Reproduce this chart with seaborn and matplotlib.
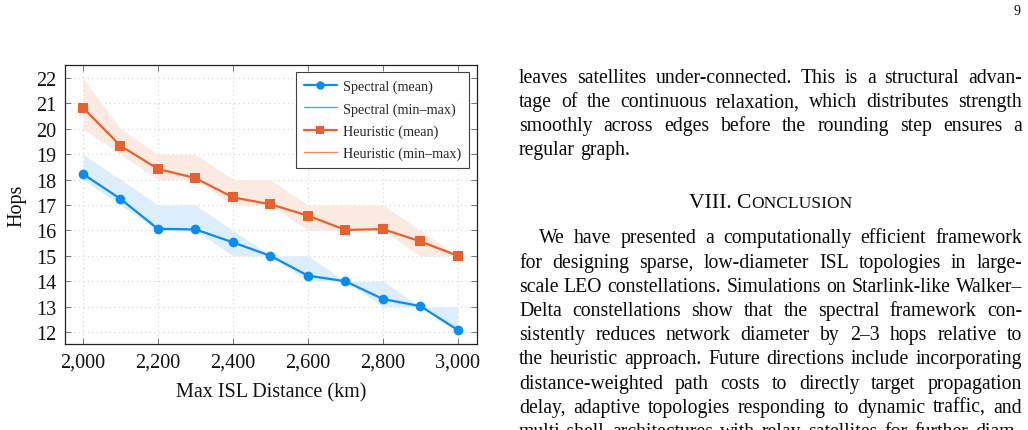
import numpy as np
import pandas as pd
import matplotlib
matplotlib.use("Agg")
import matplotlib.pyplot as plt
from matplotlib.lines import Line2D
from matplotlib.transforms import IdentityTransform
import seaborn as sns

# values
dist = [2000, 2100, 2200, 2300, 2400, 2500, 2600, 2700, 2800, 2900, 3000]
spectral_mean = [18.22, 17.24, 16.06, 16.04, 15.53, 15.0, 14.22, 14.0, 13.3, 13.02, 12.08]
spectral_min = [18, 17, 16, 16, 15, 15, 14, 14, 13, 13, 12]
spectral_max = [19, 18, 17, 17, 16, 15, 15, 14, 14, 13, 13]
heuristic_mean = [20.83, 19.33, 18.42, 18.06, 17.3, 17.03, 16.58, 16.02, 16.05, 15.57, 15.0]
heuristic_min = [20, 19, 18, 18, 17, 17, 16, 16, 16, 15, 15]
heuristic_max = [22, 20, 19, 19, 18, 18, 17, 17, 17, 16, 15]

x_ticks = [2000, 2200, 2400, 2600, 2800, 3000]
y_ticks = list(range(12, 23))
legend_labels = ["Spectral (mean)", "Spectral (min\u2013max)", "Heuristic (mean)", "Heuristic (min\u2013max)"]

para1 = [
    "leaves satellites under-connected. This is a structural advan-",
    "tage of the continuous relaxation, which distributes strength",
    "smoothly across edges before the rounding step ensures a",
    "regular graph.",
]
para2 = [
    "We have presented a computationally efficient framework",
    "for designing sparse, low-diameter ISL topologies in large-",
    "scale LEO constellations. Simulations on Starlink-like Walker\u2013",
    "Delta constellations show that the spectral framework con-",
    "sistently reduces network diameter by 2\u20133 hops relative to",
    "the heuristic approach. Future directions include incorporating",
    "distance-weighted path costs to directly target propagation",
    "delay, adaptive topologies responding to dynamic traffic, and",
    "multi-shell architectures with relay satellites for further diam-",
]

blue = "#0A8CF0"
orange = "#E8602D"
blue_fill = "#DCEEFC"
orange_fill = "#FBEAE2"

sns.set_theme(style="white")
plt.rcParams["font.family"] = ["Liberation Serif", "DejaVu Serif"]

W, H = 1028, 431
fig = plt.figure(figsize=(W / 100, H / 100), dpi=100)
fig.patch.set_facecolor("white")

# axes placed in pixel terms
left, right, top, bottom = 65, 477, 66, 345
ax = fig.add_axes([left / W, (H - bottom) / H, (right - left) / W, (bottom - top) / H])

ax.fill_between(dist, spectral_min, spectral_max, color=blue_fill, lw=0, zorder=1)
ax.fill_between(dist, heuristic_min, heuristic_max, color=orange_fill, lw=0, zorder=1)

df = pd.DataFrame({
    "dist": dist * 2,
    "hops": spectral_mean + heuristic_mean,
    "method": ["Spectral"] * len(dist) + ["Heuristic"] * len(dist),
})
sns.lineplot(data=df, x="dist", y="hops", hue="method", style="method",
             palette={"Spectral": blue, "Heuristic": orange},
             markers={"Spectral": "o", "Heuristic": "s"}, dashes=False,
             linewidth=1.6, markersize=7, markeredgewidth=0,
             legend=False, ax=ax, zorder=3)

ax.set_xlim(1952, 3051)
ax.set_ylim(11.53, 22.51)
ax.set_xticks(x_ticks)
ax.set_xticklabels([f"{v:,}" for v in x_ticks])
ax.set_yticks(y_ticks)
ax.grid(True, color="#d2d2d2", linestyle=(0, (1, 3)), linewidth=0.8)
ax.tick_params(axis="both", direction="in", length=4, width=0.7, color="#777777",
               labelsize=14.5, labelcolor="#111111", top=True, right=True,
               bottom=True, left=True, pad=6)
for s in ax.spines.values():
    s.set_color("#222222")
    s.set_linewidth(0.9)
ax.set_xlabel("Max ISL Distance (km)", fontsize=14.5, labelpad=8, color="#111111")
ax.set_ylabel("Hops", fontsize=14.5, labelpad=7, color="#111111")

handles = [
    Line2D([], [], color=blue, lw=1.6, marker="o", ms=6, mew=0),
    Line2D([], [], color=blue, lw=1.0, alpha=0.75),
    Line2D([], [], color=orange, lw=1.6, marker="s", ms=5.5, mew=0),
    Line2D([], [], color=orange, lw=1.0, alpha=0.75),
]
leg = ax.legend(handles, legend_labels, loc="upper right", bbox_to_anchor=(0.9805, 0.975),
                fontsize=10.2, frameon=True, fancybox=False, edgecolor="#111111",
                handlelength=2.35, handletextpad=0.43, labelspacing=0.62,
                borderpad=0.55, borderaxespad=0)
leg.get_frame().set_linewidth(0.8)

# ---- page text on the right (justified by hand) ----
renderer = fig.canvas.get_renderer()
body = 14.2
ink = "#0a0a0a"


def word_width(w, size):
    t = fig.text(0, 0, w, fontsize=size)
    wd = t.get_window_extent(renderer).width
    t.remove()
    return wd


def put_line(line, x0, x1, base, justify=True, size=body):
    words = line.split(" ")
    widths = [word_width(w, size) for w in words]
    if justify and len(words) > 1:
        gap = (x1 - x0 - sum(widths)) / (len(words) - 1)
    else:
        gap = word_width("a a", size) - 2 * word_width("a", size)
    x = x0
    for w, wd in zip(words, widths):
        fig.text(x, H - base, w, fontsize=size, color=ink,
                 transform=IdentityTransform(), ha="left", va="baseline")
        x += wd + gap


col_l, col_r = 519, 1022
for i, line in enumerate(para1):
    put_line(line, col_l, col_r, 83.5 + i * 23.8, justify=(i < len(para1) - 1))

# small-caps section heading
big, small = 15.6, 12.6
w1 = word_width("VIII. C", big)
w2 = word_width("ONCLUSION", small)
hx = (col_l + col_r) / 2 - (w1 + w2) / 2
fig.text(hx, H - 208, "VIII. C", fontsize=big, color=ink,
         transform=IdentityTransform(), va="baseline")
fig.text(hx + w1, H - 208, "ONCLUSION", fontsize=small, color=ink,
         transform=IdentityTransform(), va="baseline")

for i, line in enumerate(para2):
    x0 = col_l + 20 if i == 0 else col_l
    put_line(line, x0, col_r, 243.5 + i * 24.2)

fig.text(1017, H - 15, "9", fontsize=10, color=ink,
         transform=IdentityTransform(), ha="center", va="baseline")

fig.savefig("out.png", dpi=100)
